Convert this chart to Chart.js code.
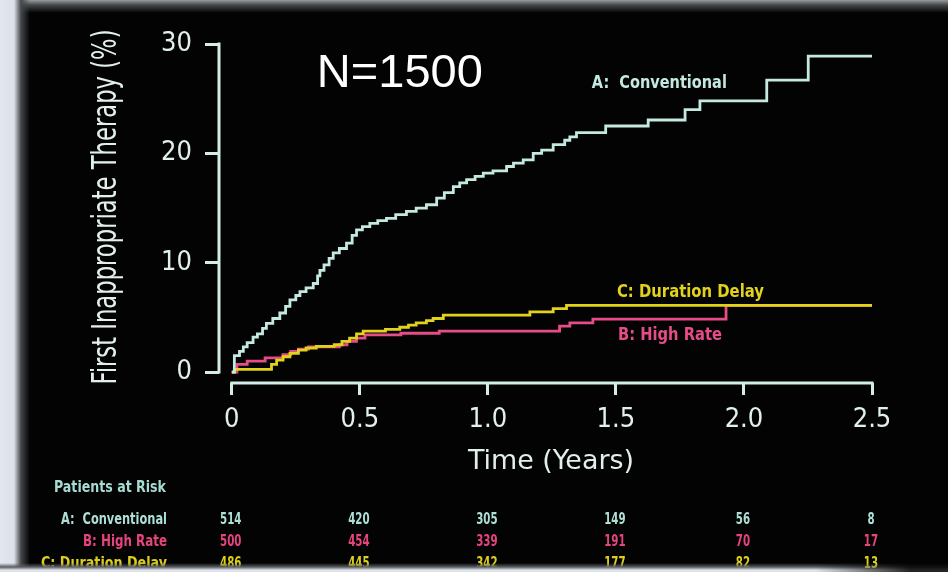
<!DOCTYPE html>
<html>
<head>
<meta charset="utf-8">
<title>First Inappropriate Therapy</title>
<script src="https://cdn.jsdelivr.net/npm/chart.js@4"></script>
<style>
  html, body { margin: 0; padding: 0; width: 948px; height: 572px; overflow: hidden; background: #030303; }
  #wrap { position: relative; width: 948px; height: 572px; }
  #wrap canvas { position: absolute; left: 0; top: 0; }
  .edge { position: absolute; pointer-events: none; }
  #edgeLeft { left: 0; top: 0; width: 30px; height: 572px;
    background: linear-gradient(to right, #e3e7ef 0px, #dce0e9 14px, #44474b 21px, rgba(3,3,3,0) 30px); }
  #edgeTop { left: 0; top: 0; width: 948px; height: 13px;
    background: linear-gradient(to bottom, #989b9e 0px, #45484a 5px, rgba(3,3,3,0) 13px); }
  #edgeBottom { left: 0; top: 559px; width: 948px; height: 13px;
    background: linear-gradient(to bottom, rgba(3,3,3,0) 0px, rgba(3,3,3,0) 4px, #5a5d61 8px, #dfe3ea 11px);
    -webkit-mask-image: linear-gradient(to right, #000 0%, #000 86%, rgba(0,0,0,0.15) 96%); }
</style>
</head>
<body>
<div id="wrap">
  <canvas id="kmChart" width="948" height="572"></canvas>
  <div class="edge" id="edgeTop"></div>
  <div class="edge" id="edgeLeft"></div>
  <div class="edge" id="edgeBottom"></div>
</div>
<script>
const yearTicks = [0, 0.5, 1.0, 1.5, 2.0, 2.5];
const yearTickLabels = ['0', '0.5', '1.0', '1.5', '2.0', '2.5'];
const pctTicks = [0, 10, 20, 30];

// Kaplan-Meier steps: time in years, cumulative % from that time on
const convTime = [0, 0.01, 0.03, 0.045, 0.06, 0.083, 0.10, 0.12, 0.135, 0.16, 0.1875, 0.21, 0.227, 0.25,
  0.266, 0.29, 0.318, 0.335, 0.344, 0.36, 0.38, 0.396, 0.42, 0.448, 0.47, 0.487, 0.51, 0.539, 0.57,
  0.604, 0.64, 0.682, 0.72, 0.76, 0.80, 0.83, 0.865, 0.89, 0.917, 0.95, 0.982, 1.02, 1.073, 1.10,
  1.138, 1.177, 1.21, 1.255, 1.30, 1.32, 1.346, 1.46, 1.626, 1.77, 1.828, 2.089, 2.251, 2.5];
const convPct = [0, 1.5, 1.9, 2.3, 2.7, 3.2, 3.5, 4.0, 4.45, 4.9, 5.4, 6.0, 6.6, 7.0,
  7.35, 7.7, 8.1, 8.8, 9.3, 9.8, 10.4, 10.9, 11.3, 11.8, 12.5, 13.0, 13.3, 13.6, 13.85,
  14.05, 14.4, 14.7, 15.0, 15.3, 15.9, 16.4, 16.95, 17.3, 17.6, 17.9, 18.2, 18.4, 18.8, 19.1,
  19.4, 20.0, 20.3, 20.8, 21.2, 21.5, 21.9, 22.5, 23.05, 24.0, 24.8, 26.7, 28.9, 28.9];

const highTime = [0, 0.02, 0.06, 0.13, 0.2, 0.23, 0.26, 0.3, 0.42, 0.45, 0.487, 0.52, 0.66, 0.81,
  1.28, 1.32, 1.41, 1.93, 2.5];
const highPct = [0, 0.7, 1.0, 1.3, 1.6, 1.9, 2.1, 2.3, 2.5, 2.8, 3.1, 3.4, 3.55, 3.75,
  4.2, 4.5, 4.85, 6.1, 6.1];

const delayTime = [0, 0.01, 0.155, 0.175, 0.2, 0.227, 0.26, 0.29, 0.33, 0.40, 0.43, 0.46, 0.487, 0.513,
  0.60, 0.656, 0.69, 0.72, 0.76, 0.786, 0.826, 1.164, 1.255, 1.307, 2.5];
const delayPct = [0, 0.25, 0.7, 1.1, 1.4, 1.7, 2.0, 2.2, 2.35, 2.5, 2.8, 3.1, 3.5, 3.75,
  3.9, 4.1, 4.3, 4.5, 4.7, 4.9, 5.2, 5.5, 5.8, 6.1, 6.1];

// patients at risk at each year tick
const riskRowLabels = ['A:  Conventional', 'B: High Rate', 'C: Duration Delay'];
const riskConv = [514, 420, 305, 149, 56, 8];
const riskHigh = [500, 454, 339, 191, 70, 17];
const riskDelay = [486, 445, 342, 177, 82, 13];

const axisColor = '#d5ede7';
const convColor = '#c3e9e1';
const highColor = '#e64c88';
const delayColor = '#e2d21a';
const condensed = "'DejaVu Sans Condensed', 'DejaVu Sans', sans-serif";

function toPoints(times, values) {
    return times.map((t, i) => ({ x: t, y: values[i] }));
}

// draw text squeezed (or stretched) horizontally to a given width
function drawFitted(ctx, text, x, y, width, align) {
    let natural = ctx.measureText(text).width;
    ctx.save();
    ctx.translate(x, y);
    ctx.scale(width / natural, 1);
    ctx.textAlign = align;
    ctx.fillText(text, 0, 0);
    ctx.restore();
}

function drawSqueezed(ctx, text, x, y, sx, align) {
    ctx.save();
    ctx.translate(x, y);
    ctx.scale(sx, 1);
    ctx.textAlign = align;
    ctx.fillText(text, 0, 0);
    ctx.restore();
}

const decorations = {
    id: 'decorations',
    beforeDatasetsDraw(chart) {
        let ctx = chart.ctx;
        let xs = chart.scales.x, ys = chart.scales.y;
        let area = chart.chartArea;
        ctx.save();
        ctx.strokeStyle = axisColor;
        ctx.lineWidth = 3;
        ctx.lineCap = 'butt';
        // detached axis lines
        ctx.beginPath();
        ctx.moveTo(area.left, ys.getPixelForValue(30) - 1.5);
        ctx.lineTo(area.left, ys.getPixelForValue(0) + 1.5);
        ctx.moveTo(xs.getPixelForValue(0) - 1.5, area.bottom);
        ctx.lineTo(xs.getPixelForValue(2.5) + 1.5, area.bottom);
        ctx.stroke();
        ctx.restore();
    },
    afterDraw(chart) {
        let ctx = chart.ctx;
        let xs = chart.scales.x, ys = chart.scales.y;
        ctx.save();
        ctx.textBaseline = 'alphabetic';

        // y axis title
        ctx.fillStyle = '#e2f0ec';
        ctx.font = '33px ' + condensed;
        ctx.save();
        ctx.translate(116, 207);
        ctx.rotate(-Math.PI / 2);
        drawFitted(ctx, 'First Inappropriate Therapy (%)', 0, 0, 355, 'center');
        ctx.restore();

        // x axis title
        ctx.font = '27px ' + condensed;
        drawFitted(ctx, 'Time (Years)', 551, 469, 166, 'center');

        // sample size
        ctx.fillStyle = '#ffffff';
        ctx.font = "46px 'Liberation Sans', Arial, sans-serif";
        drawFitted(ctx, 'N=1500', xs.getPixelForValue(0.332), ys.getPixelForValue(26.1), 166, 'left');

        // curve labels
        ctx.font = 'bold 18px ' + condensed;
        ctx.fillStyle = convColor;
        drawFitted(ctx, 'A:  Conventional', xs.getPixelForValue(1.406), ys.getPixelForValue(26.0), 135, 'left');
        ctx.fillStyle = delayColor;
        drawFitted(ctx, 'C: Duration Delay', xs.getPixelForValue(1.504), ys.getPixelForValue(6.86), 147, 'left');
        ctx.fillStyle = highColor;
        drawFitted(ctx, 'B: High Rate', xs.getPixelForValue(1.508), ys.getPixelForValue(2.93), 104, 'left');

        // patients at risk table
        ctx.font = 'bold 15px ' + condensed;
        ctx.fillStyle = '#a6dcd2';
        drawFitted(ctx, 'Patients at Risk', 54, 492, 112, 'left');

        let rows = [riskConv, riskHigh, riskDelay];
        let rowColors = ['#addfd6', '#e6447f', '#dccf1c'];
        let rowWidths = [106, 84, 126];
        let rowBase = [524, 546, 568];
        rows.forEach((row, r) => {
            ctx.fillStyle = rowColors[r];
            drawFitted(ctx, riskRowLabels[r], 167, rowBase[r], rowWidths[r], 'right');
            row.forEach((n, i) => {
                drawSqueezed(ctx, String(n), xs.getPixelForValue(yearTicks[i]) - 1, rowBase[r], 0.76, 'center');
            });
        });
        ctx.restore();
    }
};

let ctx = document.getElementById('kmChart').getContext('2d');

let chart = new Chart(ctx, {
    type: 'line',
    plugins: [decorations],
    data: {
        datasets: [{
            label: 'A: Conventional',
            data: toPoints(convTime, convPct),
            borderColor: convColor,
            order: 0
        }, {
            label: 'B: High Rate',
            data: toPoints(highTime, highPct),
            borderColor: highColor,
            order: 2
        }, {
            label: 'C: Duration Delay',
            data: toPoints(delayTime, delayPct),
            borderColor: delayColor,
            order: 1
        }]
    },
    options: {
        responsive: false,
        animation: false,
        events: [],
        layout: { padding: { top: 44, right: 76, left: 0, bottom: 0 } },
        elements: {
            line: { stepped: 'before', borderWidth: 2.8, tension: 0, fill: false },
            point: { radius: 0 }
        },
        plugins: {
            legend: { display: false },
            tooltip: { enabled: false }
        },
        scales: {
            x: {
                type: 'linear',
                min: -0.05,
                max: 2.5,
                afterBuildTicks: s => { s.ticks = yearTicks.map(v => ({ value: v })); },
                afterFit: s => { s.height = 189; },
                border: { display: false },
                grid: { display: true, drawOnChartArea: false, drawTicks: true, tickLength: 12, tickWidth: 3, tickColor: axisColor },
                ticks: {
                    color: '#e2f0ec',
                    font: { family: condensed, size: 27 },
                    padding: 9,
                    maxRotation: 0,
                    callback: v => yearTickLabels[yearTicks.indexOf(v)]
                }
            },
            y: {
                min: -1,
                max: 30,
                afterBuildTicks: s => { s.ticks = pctTicks.map(v => ({ value: v })); },
                afterFit: s => { s.width = 219; },
                border: { display: false },
                grid: { display: true, drawOnChartArea: false, drawTicks: true, tickLength: 14, tickWidth: 3, tickColor: axisColor },
                ticks: {
                    color: '#e2f0ec',
                    font: { family: condensed, size: 27 },
                    padding: 13
                }
            }
        }
    }
});
</script>
</body>
</html>
